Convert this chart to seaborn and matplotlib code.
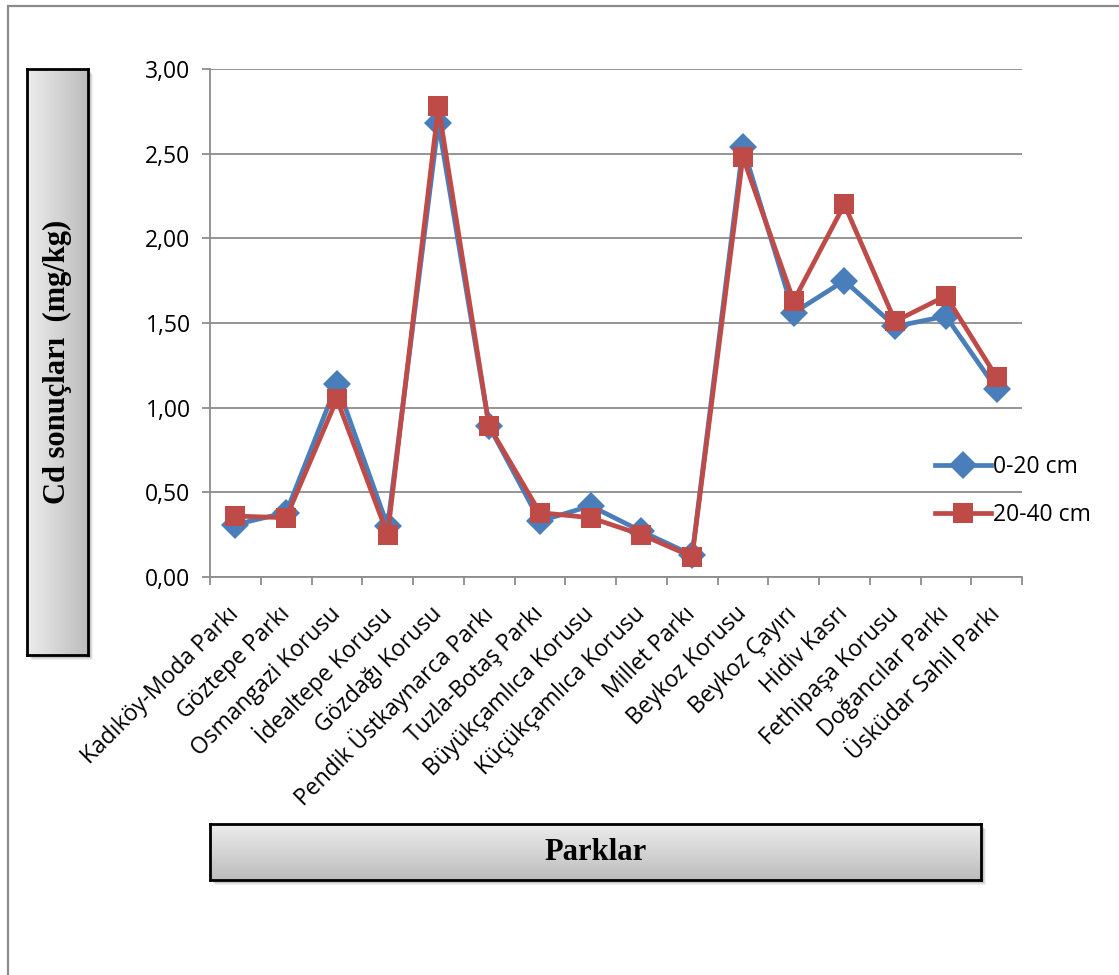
import numpy as np
import pandas as pd
import matplotlib
matplotlib.use("Agg")
import matplotlib.pyplot as plt
import seaborn as sns
from matplotlib.patches import Rectangle
from matplotlib.ticker import FuncFormatter, FixedLocator

# Cd concentrations (mg/kg) per park, two sampling depths
parks = [
    "Kadıköy-Moda Parkı", "Göztepe Parkı", "Osmangazi Korusu", "İdealtepe Korusu",
    "Gözdağı Korusu", "Pendik Üstkaynarca Parkı", "Tuzla-Botaş Parkı",
    "Büyükçamlıca Korusu", "Küçükçamlıca Korusu", "Millet Parkı", "Beykoz Korusu",
    "Beykoz Çayırı", "Hidiv Kasrı", "Fethipaşa Korusu", "Doğancılar Parkı",
    "Üsküdar Sahil Parkı",
]
depth_0_20 = [0.31, 0.38, 1.14, 0.30, 2.68, 0.89, 0.33, 0.42, 0.27, 0.13,
              2.54, 1.56, 1.75, 1.48, 1.54, 1.11]
depth_20_40 = [0.36, 0.35, 1.05, 0.25, 2.78, 0.89, 0.38, 0.35, 0.25, 0.12,
               2.48, 1.63, 2.20, 1.51, 1.66, 1.18]
series_names = ["0-20 cm", "20-40 cm"]
y_ticks = [0.0, 0.5, 1.0, 1.5, 2.0, 2.5, 3.0]
y_label = "Cd sonuçları  (mg/kg)"
x_label = "Parklar"

df = pd.DataFrame({
    "Park": parks * 2,
    "Cd": depth_0_20 + depth_20_40,
    "Derinlik": [series_names[0]] * len(parks) + [series_names[1]] * len(parks),
})

W, H = 1119, 975
fig = plt.figure(figsize=(W / 100, H / 100), dpi=100)


def box(x0, y0, x1, y1):
    return [x0 / W, 1 - y1 / H, (x1 - x0) / W, (y1 - y0) / H]


# outer chart frame
fig.patches.append(Rectangle((8 / W, -0.02), (1140 - 8) / W, 1 - 6 / H + 0.02,
                             transform=fig.transFigure, fill=False,
                             edgecolor="#8c8c8c", lw=1.6))

ax = fig.add_axes(box(210, 69, 1022, 577))
palette = {series_names[0]: "#4A7EBB", series_names[1]: "#BE4B48"}
sns.lineplot(data=df, x="Park", y="Cd", hue="Derinlik", style="Derinlik",
             markers={series_names[0]: "D", series_names[1]: "s"}, dashes=False,
             palette=palette, lw=3.4, markersize=14, markeredgewidth=0,
             ax=ax)

ax.set_ylim(0, 3)
ax.set_xlim(-0.5, len(parks) - 0.5)
ax.set_facecolor("white")
for s in ["top", "right"]:
    ax.spines[s].set_visible(False)
for s in ["left", "bottom"]:
    ax.spines[s].set_color("#8c8c8c")
    ax.spines[s].set_linewidth(1.3)
ax.yaxis.grid(True, color="#8c8c8c", lw=1.3)
ax.xaxis.grid(False)
ax.set_axisbelow(True)

ax.yaxis.set_major_locator(FixedLocator(y_ticks))
ax.yaxis.set_major_formatter(FuncFormatter(lambda v, p: f"{v:.2f}".replace(".", ",")))
ax.tick_params(axis="y", length=6, width=1.3, color="#8c8c8c", pad=8,
               labelsize=16.5, labelcolor="black")
for t in ax.get_yticklabels():
    t.set_fontfamily("Open Sans")

ax.set_xticks(range(len(parks)))
ax.set_xticks(np.arange(-0.5, len(parks), 1.0), minor=True)
ax.tick_params(axis="x", which="major", length=0, pad=24)
ax.tick_params(axis="x", which="minor", length=6, width=1.3, color="#8c8c8c")
ax.set_xticklabels(parks, rotation=45, ha="right", va="center",
                   rotation_mode="anchor", fontsize=16.5, fontfamily="Open Sans")
ax.set_xlabel("")
ax.set_ylabel("")

handles, labels = ax.get_legend_handles_labels()
ax.legend(handles, labels, loc="center left",
          bbox_to_anchor=(935 / W, 1 - 491 / H), bbox_transform=fig.transFigure,
          frameon=False, borderpad=0, borderaxespad=0, handlelength=2.45,
          handletextpad=0.1, labelspacing=1.05,
          prop={"family": "Open Sans", "size": 16.5})


def title_box(rect, text, rotation, horizontal_gradient):
    x0, y0, x1, y1 = rect
    # drop shadow
    for k, a in [(5, 0.06), (4, 0.08), (3, 0.1)]:
        fig.patches.append(Rectangle(((x0 + k) / W, 1 - (y1 + k) / H),
                                     (x1 - x0) / W, (y1 - y0) / H,
                                     transform=fig.transFigure, color="black",
                                     alpha=a, lw=0, zorder=1))
    bax = fig.add_axes(box(x0, y0, x1, y1), zorder=2)
    grad = np.linspace(0.93, 0.74, 256)
    img = grad[None, :] if horizontal_gradient else grad[:, None]
    bax.imshow(np.dstack([img, img, img]), aspect="auto", extent=(0, 1, 0, 1))
    bax.set_xticks([])
    bax.set_yticks([])
    for sp in bax.spines.values():
        sp.set_color("black")
        sp.set_linewidth(2)
    bax.text(0.5, 0.5, text, rotation=rotation, ha="center", va="center",
             fontsize=22, fontweight="bold", fontfamily="Liberation Serif",
             transform=bax.transAxes)


title_box((27, 69, 88, 655), y_label, 90, True)
title_box((210, 824, 981, 880), x_label, 0, False)

fig.savefig("out.png", dpi=100, facecolor="white")
